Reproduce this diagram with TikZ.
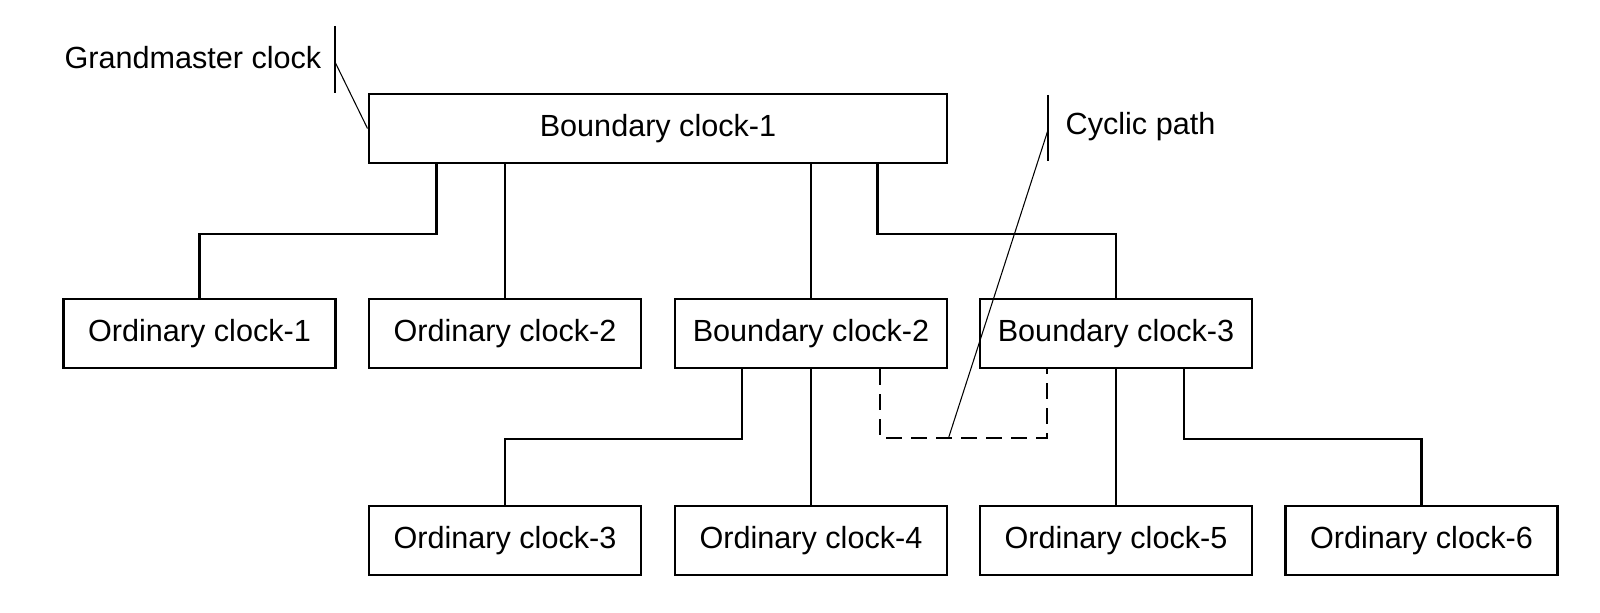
\documentclass[tikz,border=0pt]{standalone}
\usepackage{fontspec}
\setmainfont{Liberation Sans}
\usepackage{tikz}
\usetikzlibrary{calc}

\tikzset{
  clockbox/.style={draw, line width=0.75pt, minimum width=2.72cm, minimum height=0.69cm, inner sep=0pt, font=\fontsize{8.7}{10}\selectfont},
  link/.style={line width=0.6pt},
  leader/.style={line width=0.3pt},
  tag/.style={font=\fontsize{8.7}{10}\selectfont, inner sep=0pt}
}

\begin{document}
\begin{tikzpicture}[x=0.01cm,y=-0.01cm]
\useasboundingbox (0,0) rectangle (1600,613);

\node[clockbox, minimum width=5.78cm] (bcone) at (658,128.5) {Boundary clock-1};

\node[clockbox] (ocone) at (199.5,333.5) {Ordinary clock-1};
\node[clockbox] (octwo) at (505,333.5) {Ordinary clock-2};
\node[clockbox] (bctwo) at (811,333.5) {Boundary clock-2};
\node[clockbox] (bcthree) at (1116,333.5) {Boundary clock-3};

\node[clockbox] (octhree) at (505,540.5) {Ordinary clock-3};
\node[clockbox] (ocfour) at (811,540.5) {Ordinary clock-4};
\node[clockbox] (ocfive) at (1116,540.5) {Ordinary clock-5};
\node[clockbox] (ocsix) at (1421.5,540.5) {Ordinary clock-6};

\draw[link] (bcone.south west) ++(69,0) -- ++(0,70) -| (ocone.north);
\draw[link] (bcone.south -| octwo.north) -- (octwo.north);
\draw[link] (bcone.south -| bctwo.north) -- (bctwo.north);
\draw[link] (bcone.south west) ++(510,0) -- ++(0,70) -| (bcthree.north);

\draw[link] (bctwo.south west) ++(68,0) -- ++(0,70) -| (octhree.north);
\draw[link] (bctwo.south) -- (ocfour.north);
\draw[link] (bcthree.south) -- (ocfive.north);
\draw[link] (bcthree.south east) ++(-69,0) -- ++(0,70) -| (ocsix.north);

\draw[link, dash pattern=on 4.5pt off 2.6pt] (bctwo.south east) ++(-68,0) -- ++(0,69) coordinate (dashcorner)
  -- ($(dashcorner -| bcthree.south west)+(68,0)$) coordinate (dashend) -- (dashend |- bcthree.south);
\coordinate (cycfoot) at ($(dashcorner)+(68,0)$);

\node[tag, anchor=east] (gmlabel) at (322,58) {Grandmaster clock};
\coordinate (gmtop) at (335,26);
\coordinate (gmbot) at (335,93);
\coordinate (gmtick) at (335,62);
\draw[leader] (gmtop) -- (gmbot);
\draw[leader] (gmtick) -- (bcone.west);

\node[tag, anchor=west] (cyclabel) at (1065,127) {Cyclic path};
\coordinate (cyctop) at (1048,95);
\coordinate (cycbot) at (1048,161);
\coordinate (cyctick) at (1048,130);
\draw[leader] (cyctop) -- (cycbot);
\draw[leader] (cyctick) -- (cycfoot);
\end{tikzpicture}
\end{document}
